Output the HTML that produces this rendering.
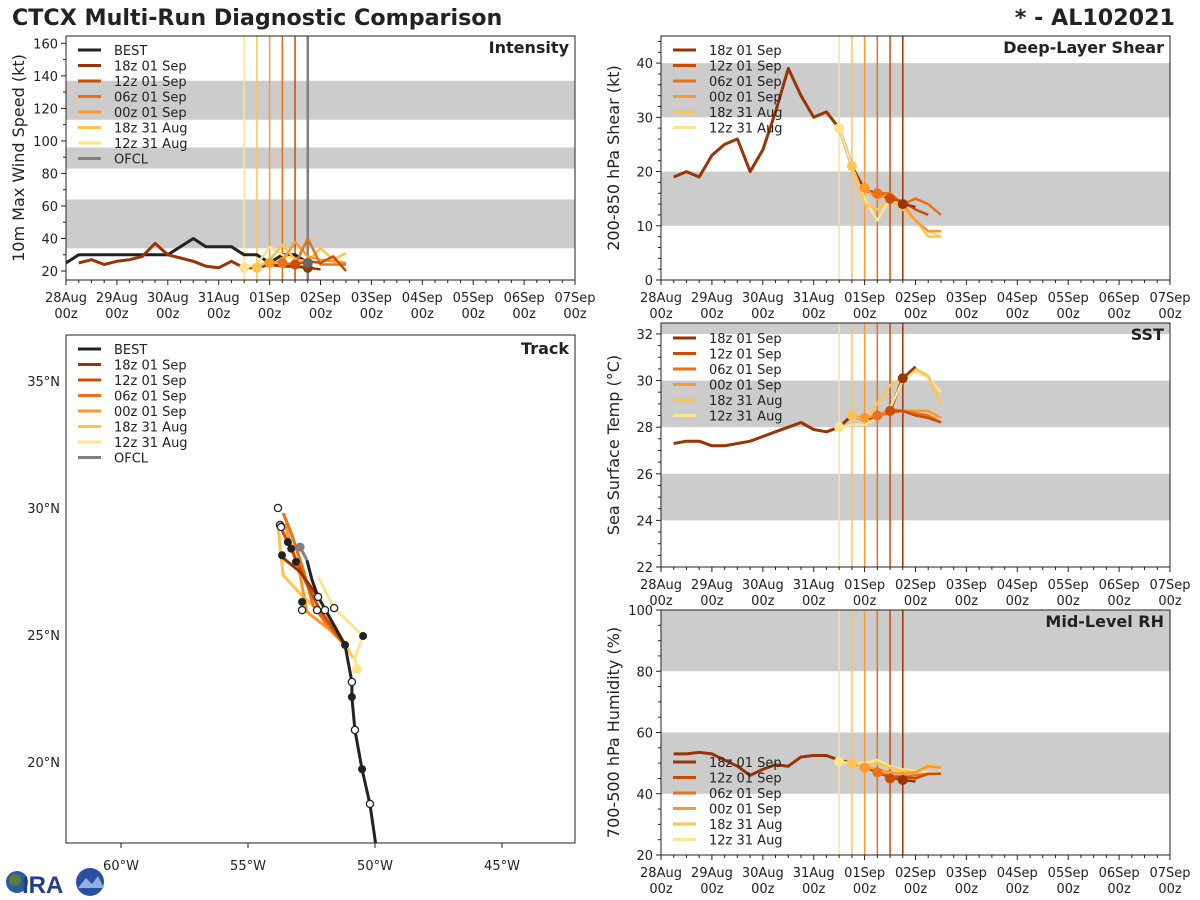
<!DOCTYPE html>
<html><head><meta charset="utf-8"><style>
html,body{margin:0;padding:0;background:#fff;}
svg{display:block;font-family:"DejaVu Sans","Liberation Sans",sans-serif;}
</style></head><body>
<svg id="chart" width="1200" height="900" viewBox="0 0 1200 900">
<text x="12" y="25" font-size="22.2" font-weight="bold" fill="#222">CTCX Multi-Run Diagnostic Comparison</text>
<text x="1175" y="25" font-size="22.2" font-weight="bold" fill="#222" text-anchor="end">* - AL102021</text>
<g>
<circle cx="17" cy="882" r="11" fill="#2c5aa0"/><circle cx="15" cy="880" r="6" fill="#5a7a3a"/>
<text x="22" y="893" font-size="24" font-weight="bold" fill="#1f3f8f" font-family="Liberation Sans, sans-serif">IRA</text>
<circle cx="90" cy="882" r="14" fill="#2a4fa0"/><path d="M78 888 L86 878 L92 884 L98 876 L104 888 Z" fill="#8fb0e0"/>
</g>
</svg>
<script>
// ---------- DATA ----------
const runLabels = ["18z 01 Sep","12z 01 Sep","06z 01 Sep","00z 01 Sep","18z 31 Aug","12z 31 Aug"];
const runColors = ["#993404","#cc4c02","#ec7014","#fe9929","#fec44f","#fee391"];
const runDays = [4.75,4.5,4.25,4.0,3.75,3.5];
const dayLabels = ["28Aug","29Aug","30Aug","31Aug","01Sep","02Sep","03Sep","04Sep","05Sep","06Sep","07Sep"];

const bestInt = [25,30,30,30,30,30,30,30,30,35,40,35,35,35,30,30,25,30,30,25];
const histInt = [25,27,24,26,27,29,37,30,28,26,23,22,26,22,22,24,23,23,22];
const fcInt18z01 = [22,21];
const fcInt12z01 = [24,26,25,29,20];
const fcInt06z01 = [25,24,40,24,24,24];
const fcInt00z01 = [25,26,38,29,27,26,25];
const fcInt18z31 = [22,27,36,27,26,34,27,31];
const fcInt12z31 = [22,24,35,30,27,24];

const histShear = [19,20,19,23,25,26,20,24,31,39,34,30,31,28,21,16.5,16,15,14];
const fcShear18z01 = [14,13.5];
const fcShear12z01 = [15,14.5,13,12];
const fcShear06z01 = [16,16,14,15,14,12];
const fcShear00z01 = [17,15,16,14,11,9,9];
const fcShear18z31 = [21,14,13,15,13,11,8,8];
const fcShear12z31 = [28,21,15,11,15,14,11,9,8];

const histSST = [27.3,27.4,27.4,27.2,27.2,27.3,27.4,27.6,27.8,28.0,28.2,27.9,27.8,28.0,28.5,28.3,28.5,28.7,30.1];
const fcSST18z01 = [30.1,30.6];
const fcSST12z01 = [28.7,28.7,28.5,28.4,28.2];
const fcSST06z01 = [28.5,28.6,28.7,28.6,28.5,28.2];
const fcSST00z01 = [28.4,28.5,28.8,28.7,28.7,28.7,28.4];
const fcSST18z31 = [28.5,28.3,29.0,29.8,30.1,30.5,30.2,29.0];
const fcSST12z31 = [28.0,28.1,28.1,28.4,28.8,30.0,30.4,30.1,29.5];

const histRH = [53,53,53.5,53,51,49,46,48,49.5,49,52,52.5,52.5,51,50,49,47,45.5,44.5];
const fcRH18z01 = [44.5,44];
const fcRH12z01 = [45,45.5,45,46.5,46.5];
const fcRH06z01 = [47,46,45.5,46,46.5,46.5];
const fcRH00z01 = [48.5,48,47,46.5,47,49,48.5];
const fcRH18z31 = [50,49,50,48.5,47.5,47,49.5,48.5];
const fcRH12z31 = [50.5,50,50,51,49,48,47.5,47,46.5];

// Track (deg W, deg N)
const bestLon = [49.88,50.20,50.51,50.79,50.91,50.91,51.18,51.38,51.77,52.24,52.48,52.68];
const bestLat = [16.14,18.35,19.72,21.26,22.56,23.15,24.61,24.96,25.67,26.50,27.17,27.95];
const ofclLon = [52.68,52.95];
const ofclLat = [27.95,28.46];
const trk18z01Lon = [52.24,52.95,53.66]; const trk18z01Lat = [26.50,27.48,28.07];
const trk12z01Lon = [51.18,52.17,52.76,53.23,53.74]; const trk12z01Lat = [24.61,25.98,27.17,28.23,29.29];
const trk06z01Lon = [51.18,51.97,52.44,52.80,53.27,53.62]; const trk06z01Lat = [24.61,25.51,26.18,27.48,28.94,29.80];
const trk00z01Lon = [51.18,51.77,52.68,52.95,53.54,53.70]; const trk00z01Lat = [24.61,25.20,25.91,27.36,29.33,29.25];
const trk18z31Lon = [50.87,51.65,52.83,53.62,53.82]; const trk18z31Lat = [24.09,25.47,26.50,27.36,29.25];
const trk12z31Lon = [52.24,51.61,50.47,50.79,50.71]; const trk12z31Lat = [27.28,26.06,24.96,24.09,23.66];
const trkOpenLon = [50.20,50.79,50.91,52.24,51.97,52.87,52.28,53.82,53.74,53.70,51.61];
const trkOpenLat = [18.35,21.26,23.15,26.50,25.98,25.98,25.98,30.0,29.33,29.25,26.06];
const trkFillLon = [50.51,50.91,51.18,50.47,52.87,53.66,53.30,53.11,53.43];
const trkFillLat = [19.72,22.56,24.61,24.96,26.30,28.14,28.40,27.88,28.66];

// ---------- DRAW ----------
const svg = document.getElementById('chart');
const NS = 'http://www.w3.org/2000/svg';
function mk(tag, attrs, parent){ const e=document.createElementNS(NS,tag); for(const k in attrs) e.setAttribute(k,attrs[k]); (parent||svg).appendChild(e); return e; }
function poly(pts){ return pts.map(p=>p[0].toFixed(1)+','+p[1].toFixed(1)).join(' '); }

function tsPanel(cfg){
  const g = mk('g',{});
  
  
  const {x0,x1,y0,y1,ymin,ymax} = cfg;
  const xs = d => x0 + d/10*(x1-x0);
  const ys = v => y1 - (v-ymin)/(ymax-ymin)*(y1-y0);
  const clip = 'clip-'+cfg.name;
  const cp = mk('clipPath',{id:clip},g); mk('rect',{x:x0,y:y0,width:x1-x0,height:y1-y0},cp);
  cfg.bands.forEach(b=>{ const r=mk('rect',{x:x0,y:ys(Math.min(b[1],ymax)),width:x1-x0,height:ys(b[0])-ys(Math.min(b[1],ymax)),fill:'#cccccc'},g);
      });
  runDays.forEach((d,i)=>{ const l=mk('line',{x1:xs(d),x2:xs(d),y1:y0,y2:y1,stroke:runColors[i],'stroke-width':1.5},g);
      });
  if(cfg.ofcl){ const l=mk('line',{x1:xs(4.75),x2:xs(4.75),y1:y0,y2:y1,stroke:'#808080','stroke-width':2.5},g);
      }
  const lg = mk('g',{'clip-path':'url(#'+clip+')'},g);
  function line(arr,start,color,name,w){ const pts=arr.map((v,i)=>[xs(start+i*0.25),ys(v)]);
    const p=mk('polyline',{points:poly(pts),fill:'none',stroke:color,'stroke-width':w||3,'stroke-linejoin':'round'},lg);
      }
  if(cfg.best) line(cfg.best,0,'#222222','best-line');
  line(cfg.hist,0.25,'#993404','analysis-line');
  for(let i=cfg.fc.length-1;i>=0;i--) line(cfg.fc[i],runDays[i],runColors[i],'forecast-line-'+i,2.5);
  for(let i=cfg.fc.length-1;i>=0;i--){ const c=mk('circle',{cx:xs(runDays[i]),cy:ys(cfg.fc[i][0]),r:5,fill:runColors[i]},lg);
      }
  if(cfg.ofcl){ const c=mk('circle',{cx:xs(4.75),cy:ys(cfg.best[cfg.best.length-1]),r:5,fill:'#666'},lg);
      }
  mk('rect',{x:x0,y:y0,width:x1-x0,height:y1-y0,fill:'none',stroke:'#222','stroke-width':1},g);
  const k0 = Math.ceil((ymin - cfg.tick0)/cfg.minor - 1e-6);
  for(let k=k0; cfg.tick0 + k*cfg.minor <= ymax+1e-6; k++){
    const v = cfg.tick0 + k*cfg.minor;
    const r = (v-cfg.tick0)/cfg.major;
    const major = Math.abs(r-Math.round(r))<1e-6;
    mk('line',{x1:x0,x2:x0-(major?5:3),y1:ys(v),y2:ys(v),stroke:'#222'},g);
    if(major){ const t=mk('text',{x:x0-8,y:ys(v)+5,'font-size':13,'text-anchor':'end',fill:'#222'},g); t.textContent=Math.round(v*100)/100;
        } }
  for(let q=0;q<=40;q++){ const x=xs(q/4); mk('line',{x1:x,x2:x,y1:y1,y2:y1+(q%4===0?5:3),stroke:'#222'},g); }
  dayLabels.forEach((d,i)=>{ const t=mk('text',{x:xs(i),y:y1+22,'font-size':13,'text-anchor':'middle',fill:'#222'},g); t.textContent=d;
     
    const t2=mk('text',{x:xs(i),y:y1+38,'font-size':13,'text-anchor':'middle',fill:'#222'},g); t2.textContent='00z';
      });
  const yt=mk('text',{x:0,y:0,'font-size':16,'text-anchor':'middle',fill:'#222',transform:'translate('+(x0-42)+','+((y0+y1)/2)+') rotate(-90)'},g);
  yt.textContent=cfg.ylabel;  
  const tt=mk('text',{x:x1-6,y:y0+17,'font-size':16,'font-weight':'bold','text-anchor':'end',fill:'#222'},g);
  tt.textContent=cfg.title;  
  legend(g,x0+12,cfg.legY,cfg.best!==undefined,cfg.ofcl);
}
function legend(g,x,y,best,ofcl){
  const items=[]; if(best) items.push(['BEST','#222']); runLabels.forEach((l,i)=>items.push([l,runColors[i]])); if(ofcl) items.push(['OFCL','#808080']);
  const lg=mk('g',{},g);  
  items.forEach((it,i)=>{ const yy=y+i*15.5;
    mk('line',{x1:x,x2:x+23,y1:yy,y2:yy,stroke:it[1],'stroke-width':3},lg);
    const t=mk('text',{x:x+36,y:yy+5,'font-size':13,fill:'#222'},lg); t.textContent=it[0];
      });
}
tsPanel({name:'intensity-panel',x0:66,x1:575,y0:36,y1:280,ymin:14.5,ymax:164.5,bands:[[34,64],[83,96],[113,137]],
  tick0:20,major:20,minor:10,ylabel:'10m Max Wind Speed (kt)',title:'Intensity',best:bestInt,hist:histInt,ofcl:true,legY:50,
  fc:[fcInt18z01,fcInt12z01,fcInt06z01,fcInt00z01,fcInt18z31,fcInt12z31]});
tsPanel({name:'shear-panel',x0:661,x1:1170,y0:36,y1:280,ymin:0,ymax:45,bands:[[10,20],[30,40]],
  tick0:0,major:10,minor:2,ylabel:'200-850 hPa Shear (kt)',title:'Deep-Layer Shear',hist:histShear,legY:50,
  fc:[fcShear18z01,fcShear12z01,fcShear06z01,fcShear00z01,fcShear18z31,fcShear12z31]});
tsPanel({name:'sst-panel',x0:661,x1:1170,y0:323,y1:567,ymin:22,ymax:32.47,bands:[[24,26],[28,30],[32,34]],
  tick0:22,major:2,minor:0.5,ylabel:'Sea Surface Temp (°C)',title:'SST',hist:histSST,legY:338,
  fc:[fcSST18z01,fcSST12z01,fcSST06z01,fcSST00z01,fcSST18z31,fcSST12z31]});
tsPanel({name:'rh-panel',x0:661,x1:1170,y0:610,y1:855,ymin:20,ymax:100,bands:[[40,60],[80,100]],
  tick0:20,major:20,minor:5,ylabel:'700-500 hPa Humidity (%)',title:'Mid-Level RH',hist:histRH,legY:762,
  fc:[fcRH18z01,fcRH12z01,fcRH06z01,fcRH00z01,fcRH18z31,fcRH12z31]});

// Track panel
(function(){
  const g=mk('g',{});  
  const x0=66,x1=575,y0=335,y1=843;
  const xs = w => 121 + (60-w)*25.4;
  const ys = la => 381 + (35-la)*25.4;
  const cp=mk('clipPath',{id:'clip-track'},g); mk('rect',{x:x0,y:y0,width:x1-x0,height:y1-y0},cp);
  const lg=mk('g',{'clip-path':'url(#clip-track)'},g);
  function tl(lon,lat,color,name){ const p=mk('polyline',{points:poly(lon.map((w,i)=>[xs(w),ys(lat[i])])),fill:'none',stroke:color,'stroke-width':3,'stroke-linejoin':'round'},lg);
      }
  tl(trk12z31Lon,trk12z31Lat,runColors[5],'track-12z-31aug');
  tl(trk18z31Lon,trk18z31Lat,runColors[4],'track-18z-31aug');
  tl(trk00z01Lon,trk00z01Lat,runColors[3],'track-00z-01sep');
  tl(trk06z01Lon,trk06z01Lat,runColors[2],'track-06z-01sep');
  tl(trk12z01Lon,trk12z01Lat,runColors[1],'track-12z-01sep');
  tl(trk18z01Lon,trk18z01Lat,runColors[0],'track-18z-01sep');
  tl(bestLon,bestLat,'#222','best-track');
  tl(ofclLon,ofclLat,'#808080','ofcl-track');
  const c0=mk('circle',{cx:xs(ofclLon[1]),cy:ys(ofclLat[1]),r:4.5,fill:'#808080'},lg);  
  const c1=mk('circle',{cx:xs(trk12z31Lon[4]),cy:ys(trk12z31Lat[4]),r:5,fill:runColors[5]},lg);  
  trkFillLon.forEach((w,i)=>{ const c=mk('circle',{cx:xs(w),cy:ys(trkFillLat[i]),r:4,fill:'#222'},lg);
      });
  trkOpenLon.forEach((w,i)=>{ const c=mk('circle',{cx:xs(w),cy:ys(trkOpenLat[i]),r:3.6,fill:'#fff',stroke:'#222','stroke-width':1.3},lg);
      });
  mk('rect',{x:x0,y:y0,width:x1-x0,height:y1-y0,fill:'none',stroke:'#222'},g);
  [60,55,50,45].forEach(w=>{ mk('line',{x1:xs(w),x2:xs(w),y1:y1,y2:y1+5,stroke:'#222'},g);
    const t=mk('text',{x:xs(w),y:y1+27,'font-size':13,'text-anchor':'middle',fill:'#222'},g); t.textContent=w+'°W';
      });
  [35,30,25,20].forEach(la=>{ const t=mk('text',{x:x0-6,y:ys(la)+5,'font-size':13,'text-anchor':'end',fill:'#222'},g); t.textContent=la+'°N';
      });
  const tt=mk('text',{x:x1-6,y:y0+19,'font-size':16,'font-weight':'bold','text-anchor':'end',fill:'#222'},g);
  tt.textContent='Track';  
  legend(g,78,349,true,true);
})();
</script>
</body></html>
